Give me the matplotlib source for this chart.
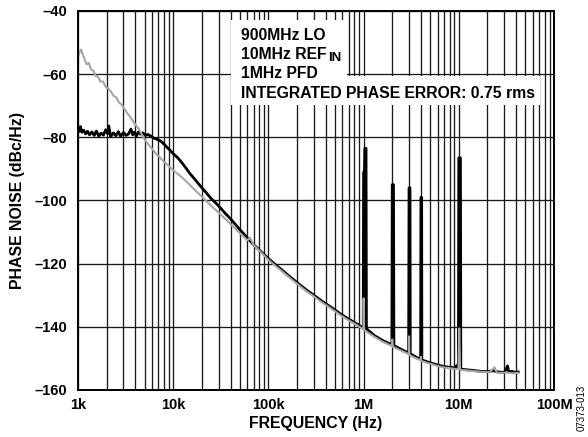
"""Phase noise vs offset frequency, 900MHz LO, two loop filter settings."""
import numpy as np
import matplotlib.pyplot as plt
from matplotlib.patches import Rectangle
from matplotlib.ticker import LogLocator, NullFormatter

plt.rcParams["font.family"] = ["Liberation Sans", "DejaVu Sans"]
plt.rcParams["font.weight"] = "bold"

# black trace: offset frequency (Hz) and phase noise (dBc/Hz)
black_f = [1000, 1030, 1060, 1100, 1150, 1200, 1260, 1320, 1400, 1480, 1560, 1650,
           1750, 1850, 1950, 2050, 2100, 2200, 2350, 2500, 2650, 2800, 3000, 3200,
           3400, 3600, 3750, 3900, 4100, 4300, 4500, 4800, 5100, 5400, 5800, 6200,
           6700, 7200, 7800, 8500, 9200, 10000, 11000, 12000, 13500, 15000, 17000,
           19000, 22000, 25000, 28000, 31000, 35000, 40000, 45000, 50000, 60000,
           70000, 85000, 100000, 115000, 130000, 160000, 200000, 250000, 300000,
           370000, 450000, 570000, 700000, 850000, 990000, 1000000, 1020000,
           1030000, 1060000, 1070000, 1300000, 1600000, 1980000, 2000000, 2060000,
           2080000, 2500000, 2970000, 3000000, 3070000, 3090000, 3500000, 3970000,
           4000000, 4070000, 4090000, 5000000, 6000000, 7000000, 8000000, 9000000,
           9600000, 9900000, 10000000, 10400000, 10500000, 12000000, 14000000,
           17000000, 20000000, 23000000, 26000000, 30000000, 32500000, 33500000,
           36000000, 39000000, 42000000]
black_db = [-77.0, -78.2, -76.6, -78.4, -77.8, -78.9, -78.1, -79.2, -78.3, -79.4, -78.0,
            -79.6, -78.7, -79.3, -77.6, -78.9, -76.4, -79.8, -78.6, -79.5, -78.2,
            -79.7, -78.5, -79.4, -78.9, -77.4, -79.2, -78.4, -79.6, -78.3, -79.0,
            -78.6, -79.4, -79.1, -79.6, -80.2, -80.6, -81.0, -81.8, -83.0, -84.0,
            -85.2, -86.3, -87.6, -89.6, -91.5, -93.4, -95.2, -97.4, -99.4, -100.8,
            -102.2, -104.0, -105.8, -107.6, -109.2, -111.8, -114.0, -116.4, -118.4,
            -120.0, -121.3, -123.6, -126.0, -128.3, -130.0, -132.0, -133.7, -135.9,
            -137.6, -139.1, -140.4, -91.0, -91.0, -83.5, -83.5, -140.6, -142.8,
            -144.4, -145.7, -95.0, -95.0, -145.9, -147.2, -148.3, -96.0, -96.0,
            -148.5, -149.5, -150.3, -99.0, -99.0, -150.5, -151.4, -152.1, -152.6,
            -152.8, -153.0, -152.2, -153.1, -86.5, -86.5, -153.4, -153.6, -153.8,
            -154.1, -154.2, -153.9, -154.3, -154.5, -152.4, -154.4, -154.1, -154.4,
            -154.3]

# gray trace
gray_f = [1000, 1040, 1080, 1120, 1170, 1230, 1300, 1370, 1450, 1530, 1620, 1720,
          1830, 1950, 2080, 2220, 2370, 2530, 2700, 2900, 3100, 3300, 3550, 3800,
          4100, 4400, 4700, 5100, 5500, 6000, 6500, 7100, 7800, 8600, 9500, 10500,
          11500, 13000, 15000, 17000, 20000, 23000, 27000, 32000, 38000, 45000,
          52000, 60000, 64000, 70000, 85000, 100000, 115000, 130000, 160000,
          200000, 250000, 300000, 370000, 450000, 570000, 700000, 850000, 995000,
          1000000, 1010000, 1300000, 1600000, 1990000, 2000000, 2020000, 2500000,
          2990000, 3000000, 3020000, 3500000, 3990000, 4000000, 4020000, 5000000,
          6000000, 7000000, 8000000, 9000000, 9900000, 10100000, 10300000,
          12000000, 15000000, 18000000, 21000000, 23700000, 25000000, 28000000,
          32000000, 36000000, 42000000]
gray_db = [-54.5, -53.0, -52.2, -53.8, -55.2, -56.9, -56.5, -58.6, -58.9, -60.6, -60.8,
           -62.4, -62.3, -64.0, -64.6, -65.6, -66.9, -67.4, -69.0, -69.8, -71.2,
           -72.4, -73.6, -75.0, -76.4, -77.6, -79.3, -81.0, -82.3, -83.6, -85.0,
           -86.1, -87.4, -88.6, -89.8, -91.0, -91.9, -93.3, -95.1, -96.8, -98.8,
           -100.6, -102.6, -104.6, -106.8, -109.0, -110.8, -112.6, -111.8, -114.1,
           -116.6, -118.8, -120.4, -121.7, -124.0, -126.4, -128.7, -130.4, -132.4,
           -134.1, -136.3, -138.0, -139.5, -140.8, -131.0, -141.0, -143.2, -144.8,
           -146.1, -144.0, -146.3, -147.6, -148.7, -143.0, -148.9, -149.9, -150.6,
           -149.5, -150.8, -151.7, -152.4, -152.9, -153.1, -153.3, -153.4, -140.5,
           -153.6, -153.8, -154.1, -154.3, -154.4, -152.8, -154.5, -154.6, -154.5,
           -154.7, -154.6]

x_ticks = [1e3, 1e4, 1e5, 1e6, 1e7, 1e8]
x_tick_labels = ["1k", "10k", "100k", "1M", "10M", "100M"]
y_ticks = [-160, -140, -120, -100, -80, -60, -40]

info_lines = ["900MHz LO", "10MHz REF", "1MHz PFD", "INTEGRATED PHASE ERROR: 0.75 rms"]


def main():
    fig = plt.figure(figsize=(5.88, 4.37), dpi=100)
    ax = fig.add_axes([0.1327, 0.1076, 0.8095, 0.8673])

    ax.plot(black_f, black_db, color="black", linewidth=2.0, zorder=3)
    ax.plot(gray_f, gray_db, color="#a6a6a6", linewidth=1.5, zorder=4)

    ax.set_xscale("log")
    ax.set_xlim(1e3, 1e8)
    ax.set_ylim(-160, -40)
    ax.set_xticks(x_ticks)
    ax.set_xticklabels(x_tick_labels)
    ax.xaxis.set_minor_locator(LogLocator(base=10, subs=np.arange(2, 10)))
    ax.xaxis.set_minor_formatter(NullFormatter())
    ax.set_yticks(y_ticks)
    ax.set_yticklabels([f"\u2013{abs(v)}" for v in y_ticks])
    ax.tick_params(which="both", length=0, labelsize=10.5)
    ax.tick_params(axis="x", pad=5.5)
    ax.tick_params(axis="y", pad=8)

    ax.grid(which="major", axis="both", color="#1a1a1a", linewidth=0.95)
    ax.grid(which="minor", axis="x", color="#1a1a1a", linewidth=0.95)
    ax.set_axisbelow(True)
    for s in ax.spines.values():
        s.set_linewidth(1.4)
        s.set_zorder(6)

    ax.set_xlabel("FREQUENCY (Hz)", fontsize=11.4, fontweight="bold")
    ax.set_ylabel("PHASE NOISE (dBc/Hz)", fontsize=11.4, fontweight="bold")
    ax.xaxis.set_label_coords(0.5, -0.068)
    ax.yaxis.set_label_coords(-0.111, 0.5)

    # white panels behind the annotation text
    ax.add_patch(Rectangle((0.3215, 0.752), 0.2435, 0.224, transform=ax.transAxes,
                           facecolor="white", edgecolor="none", zorder=2))
    ax.add_patch(Rectangle((0.3215, 0.752), 0.649, 0.0765, transform=ax.transAxes,
                           facecolor="white", edgecolor="none", zorder=2))

    tx = 0.3424
    baselines = [0.9235, 0.8733, 0.823, 0.7705]
    texts = []
    for s, yb in zip(info_lines, baselines):
        t = ax.text(tx, yb, s, transform=ax.transAxes, fontsize=11.3,
                    fontweight="bold", va="baseline", ha="left", zorder=5)
        texts.append(t)
    ax.annotate("IN", xy=(1, 0), xycoords=texts[1], xytext=(0.8, -1.8),
                textcoords="offset points", fontsize=9.5, fontweight="bold",
                va="bottom", ha="left", zorder=5)

    fig.text(0.99, 0.066, "07373-013", rotation=90, fontsize=7,
             fontweight="normal", ha="center", va="center")

    fig.savefig("out.png", dpi=100)


if __name__ == "__main__":
    main()
